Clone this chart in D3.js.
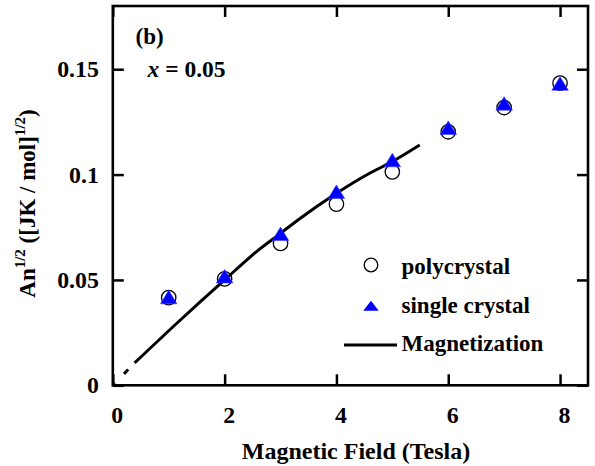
<!DOCTYPE html>
<html>
<head>
<meta charset="utf-8">
<script src="https://cdn.jsdelivr.net/npm/d3@7"></script>
<style>
  html, body { margin: 0; padding: 0; background: #fff; }
  svg { display: block; }
</style>
</head>
<body>
<svg id="chart" width="595" height="466"></svg>
<script>
// ---- data ----
const fields = [1, 2, 3, 4, 5, 6, 7, 8];
const polycrystal = [0.0416, 0.0505, 0.0673, 0.0860, 0.1013, 0.1203, 0.1318, 0.1434];
const singleCrystal = [0.0408, 0.0507, 0.0708, 0.0908, 0.1058, 0.1212, 0.1327, 0.1421];
const magFieldLow = [0, 0.39];
const magValueLow = [0, 0.0106];
const magField = [0.39, 1.16, 2.02, 2.62, 2.97, 3.33, 3.98, 4.57, 4.99, 5.49];
const magValue = [0.0106, 0.0298, 0.0505, 0.0645, 0.0715, 0.0788, 0.0908, 0.1003, 0.1060, 0.1140];
const xTicks = [0, 2, 4, 6, 8];
const yTicks = [0, 0.05, 0.1, 0.15];
const yTickLabels = ["0", "0.05", "0.1", "0.15"];
const legendLabels = ["polycrystal", "single crystal", "Magnetization"];

// ---- layout ----
const svg = d3.select("#chart");
const FONT = '"Liberation Serif", Tinos, "Times New Roman", Times, serif';
const L = 112.8, R = 588, T = 6, B = 385.3;
const x = d3.scaleLinear().domain([0, 8.5]).range([L, R]);
const y = d3.scaleLinear().domain([0, 0.18]).range([B, T]);
const FS = 23;

function triPath(cx, cy, w, h) {
  const p = d3.path();
  p.moveTo(cx, cy - 2 * h / 3);
  p.lineTo(cx + w / 2, cy + h / 3);
  p.lineTo(cx - w / 2, cy + h / 3);
  p.closePath();
  return p.toString();
}

// axes (inward ticks)
const gB = svg.append("g").attr("transform", `translate(0,${B})`)
  .call(d3.axisBottom(x).tickValues(xTicks).tickSizeInner(-11).tickSizeOuter(0).tickPadding(20.4).tickFormat(d3.format("d")));
const gT = svg.append("g").attr("transform", `translate(0,${T})`)
  .call(d3.axisTop(x).tickValues(xTicks).tickSizeInner(-11).tickSizeOuter(0).tickFormat(""));
const gL = svg.append("g").attr("transform", `translate(${L},0)`)
  .call(d3.axisLeft(y).tickValues(yTicks).tickSizeInner(-11).tickSizeOuter(0).tickPadding(14)
    .tickFormat((d, i) => yTickLabels[i]));
const gR = svg.append("g").attr("transform", `translate(${R},0)`)
  .call(d3.axisRight(y).tickValues(yTicks).tickSizeInner(-11).tickSizeOuter(0).tickFormat(""));

[gB, gT, gL, gR].forEach(g => {
  g.attr("font-family", FONT);
  g.select(".domain").remove();
  g.selectAll(".tick line").attr("stroke", "#000").attr("stroke-width", 2.5);
  g.selectAll("text").attr("font-size", 23.8).attr("font-family", FONT).attr("font-weight", "bold").attr("fill", "#000");
});
gB.selectAll("text").attr("dx", 4);

// frame
svg.append("rect").attr("x", L).attr("y", T).attr("width", R - L).attr("height", B - T)
  .attr("fill", "none").attr("stroke", "#000").attr("stroke-width", 2.6);

// magnetization line
const line = d3.line().x(d => x(d[0])).y(d => y(d[1])).curve(d3.curveMonotoneX);
svg.append("path").datum(magFieldLow.map((f, i) => [f, magValueLow[i]]))
  .attr("d", d3.line().x(d => x(d[0])).y(d => y(d[1])))
  .attr("fill", "none").attr("stroke", "#000").attr("stroke-width", 3)
  .attr("stroke-dasharray", "3,13,6,10");
svg.append("path").datum(magField.map((f, i) => [f, magValue[i]]))
  .attr("d", line)
  .attr("fill", "none").attr("stroke", "#000").attr("stroke-width", 3);

// polycrystal circles
svg.append("g").selectAll("circle").data(fields).join("circle")
  .attr("cx", d => x(d)).attr("cy", (d, i) => y(polycrystal[i])).attr("r", 7.2)
  .attr("fill", "none").attr("stroke", "#000").attr("stroke-width", 1.3);

// single crystal triangles
svg.append("g").selectAll("path").data(fields).join("path")
  .attr("d", (d, i) => triPath(x(d), y(singleCrystal[i]), 16.5, 13.5))
  .attr("fill", "#0000ff").attr("stroke", "#3b3bff").attr("stroke-width", 0.6);

// labels
function txt(parent, fs) {
  return parent.append("text").attr("font-family", FONT).attr("font-weight", "bold").attr("font-size", fs || FS);
}
txt(svg).attr("x", 135.5).attr("y", 43.5).text("(b)");
const xt = txt(svg, 23.5).attr("x", 147.5).attr("y", 76.5);
xt.append("tspan").attr("font-style", "italic").text("x");
xt.append("tspan").text(" = 0.05");

// axis titles
txt(svg, 24).attr("x", 356).attr("y", 459).attr("text-anchor", "middle").text("Magnetic Field (Tesla)");
const yt = txt(svg).attr("transform", "translate(35,203.5) rotate(-90)").attr("text-anchor", "middle");
yt.append("tspan").text("An");
yt.append("tspan").attr("font-size", 15).attr("dy", -10).text("1/2");
yt.append("tspan").attr("dy", 10).text(" ([JK / mol]");
yt.append("tspan").attr("font-size", 15).attr("dy", -10).text("1/2");
yt.append("tspan").attr("dy", 10).text(")");

// legend
const lg = svg.append("g");
lg.append("circle").attr("cx", 371).attr("cy", 265).attr("r", 6.8)
  .attr("fill", "none").attr("stroke", "#000").attr("stroke-width", 1.3);
lg.append("path").attr("d", triPath(371, 307.5, 15.5, 10)).attr("fill", "#0000ff");
lg.append("line").attr("x1", 344).attr("x2", 397).attr("y1", 345).attr("y2", 345)
  .attr("stroke", "#000").attr("stroke-width", 3);
const baselines = [274, 312.5, 351];
legendLabels.forEach((t, i) => {
  txt(lg).attr("x", 401.5).attr("y", baselines[i]).text(t);
});
</script>
</body>
</html>
